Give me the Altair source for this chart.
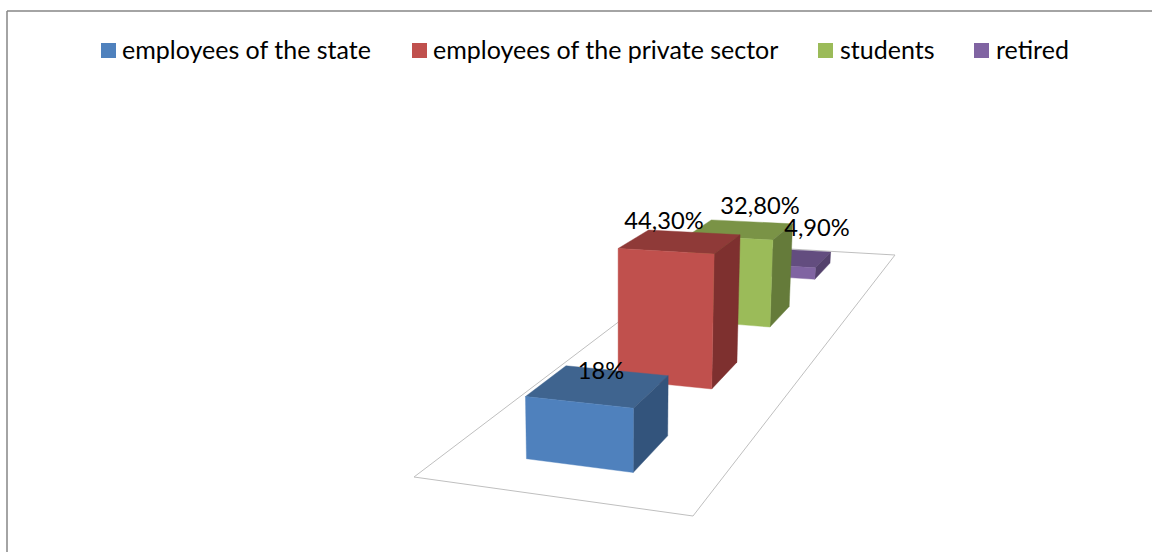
import altair as alt
import numpy as np

# Survey shares
categories = ["employees of the state", "employees of the private sector", "students", "retired"]
values = [18.0, 44.3, 32.8, 4.9]
value_labels = ["18%", "44,30%", "32,80%", "4,90%"]

# Office-style palette: front, top and side shades per series
front_colors = ["#4F81BD", "#C0504D", "#9BBB59", "#8064A2"]
top_colors = ["#3F648F", "#8F3A38", "#7A9346", "#634D7F"]
side_colors = ["#33547C", "#7E302F", "#657B3A", "#54416C"]

# Legend layout
legend_square_x = [108.5, 419.5, 825.5, 981.5]
legend_text_x = [122, 433, 840, 996]
# Offsets of each data label from the centre of its bar's top face
label_dx = [3, -16, 19, 31]
label_dy = [-14, -20, -23, -29]

# Perspective floor: corners of the plot floor on the page
floor = np.array([[414, 477], [693, 516], [895, 255], [720, 245]], dtype=float)
HEIGHT_UNIT = 3.55
SPREAD = 0.0006
SPREAD_CENTRE = 620.0


def floor_matrix(q):
    (x0, y0), (x1, y1), (x2, y2), (x3, y3) = q
    dx1, dx2, sx = x1 - x2, x3 - x2, x0 - x1 + x2 - x3
    dy1, dy2, sy = y1 - y2, y3 - y2, y0 - y1 + y2 - y3
    den = dx1 * dy2 - dx2 * dy1
    g = (sx * dy2 - dx2 * sy) / den
    h = (dx1 * sy - sx * dy1) / den
    return np.array([
        [x1 * (1 + g) - x0, x3 * (1 + h) - x0, x0],
        [y1 * (1 + g) - y0, y3 * (1 + h) - y0, y0],
        [g, h, 1.0],
    ])


H = floor_matrix(floor)


def project(u, v, level=0.0):
    px, py, w = H @ np.array([u, v, 1.0])
    x, y = px / w, py / w
    x += (x - SPREAD_CENTRE) * level * SPREAD
    y -= HEIGHT_UNIT * level / w
    return [float(x), float(y)]


def face(points, fill):
    ring = [project(*p) for p in points]
    ring.append(ring[0])
    return {
        "type": "Feature",
        "properties": {"fill": fill},
        "geometry": {"type": "Polygon", "coordinates": [ring]},
    }


BAR_U0, BAR_U1 = 0.3, 0.7
BAR_DEPTH = 0.1

faces = []
label_rows = []
for i in range(len(values) - 1, -1, -1):
    centre = (i + 0.5) / len(values)
    v0, v1 = centre - BAR_DEPTH / 2, centre + BAR_DEPTH / 2
    t = values[i]
    faces.append(face([(BAR_U0, v1, t), (BAR_U1, v1, t), (BAR_U1, v0, t), (BAR_U0, v0, t)], top_colors[i]))
    faces.append(face([(BAR_U1, v0, 0), (BAR_U1, v1, 0), (BAR_U1, v1, t), (BAR_U1, v0, t)], side_colors[i]))
    faces.append(face([(BAR_U0, v0, 0), (BAR_U1, v0, 0), (BAR_U1, v0, t), (BAR_U0, v0, t)], front_colors[i]))
for i in range(len(values)):
    lx, ly = project(0.5, (i + 0.5) / len(values), values[i])
    label_rows.append({"x": lx + label_dx[i], "y": ly + label_dy[i], "label": value_labels[i]})

floor_ring = [[float(a), float(b)] for a, b in floor] + [[float(floor[0][0]), float(floor[0][1])]]
floor_feature = {"type": "Feature", "properties": {}, "geometry": {"type": "Polygon", "coordinates": [floor_ring]}}

screen = dict(type="identity", scale=1, translate=[0, 0])

floor_layer = (
    alt.Chart(alt.Data(values=[floor_feature]))
    .mark_geoshape(fill="#FFFFFF", stroke="#BFBFBF", strokeWidth=1)
    .project(**screen)
)

bar_layer = (
    alt.Chart(alt.Data(values=faces))
    .mark_geoshape(strokeWidth=0.4)
    .encode(
        fill=alt.Fill("properties.fill:N", scale=None),
        stroke=alt.Stroke("properties.fill:N", scale=None),
    )
    .project(**screen)
)

frame_top = alt.Chart(alt.Data(values=[{"a": 0}])).mark_rule(color="#868686", strokeWidth=1.5).encode(
    x=alt.value(7), x2=alt.value(1152), y=alt.value(11)
)
frame_left = alt.Chart(alt.Data(values=[{"a": 0}])).mark_rule(color="#868686", strokeWidth=1.5).encode(
    x=alt.value(7), y=alt.value(11), y2=alt.value(552)
)

legend_rows = [
    {"name": n, "sx": sx, "tx": tx, "color": c}
    for n, sx, tx, c in zip(categories, legend_square_x, legend_text_x, front_colors)
]
legend_y = 50.5
legend_squares = (
    alt.Chart(alt.Data(values=legend_rows))
    .mark_square(size=225, opacity=1)
    .encode(
        x=alt.X("sx:Q", scale=None),
        y=alt.value(legend_y),
        fill=alt.Fill("color:N", scale=None),
    )
)
legend_text = (
    alt.Chart(alt.Data(values=legend_rows))
    .mark_text(align="left", baseline="middle", font="Lato", fontSize=25, color="#000000")
    .encode(x=alt.X("tx:Q", scale=None), y=alt.value(legend_y), text="name:N")
)

labels = (
    alt.Chart(alt.Data(values=label_rows))
    .mark_text(align="center", baseline="middle", font="Lato", fontSize=23.7, color="#000000")
    .encode(x=alt.X("x:Q", scale=None), y=alt.Y("y:Q", scale=None), text="label:N")
)

chart = (
    alt.layer(floor_layer, bar_layer, frame_top, frame_left, legend_squares, legend_text, labels)
    .properties(width=1152, height=552, padding=0, autosize=alt.AutoSizeParams(type="none"), background="#FFFFFF")
    .configure_view(stroke=None)
)

chart.save("out.html", embed_options={"renderer": "svg", "actions": False})
